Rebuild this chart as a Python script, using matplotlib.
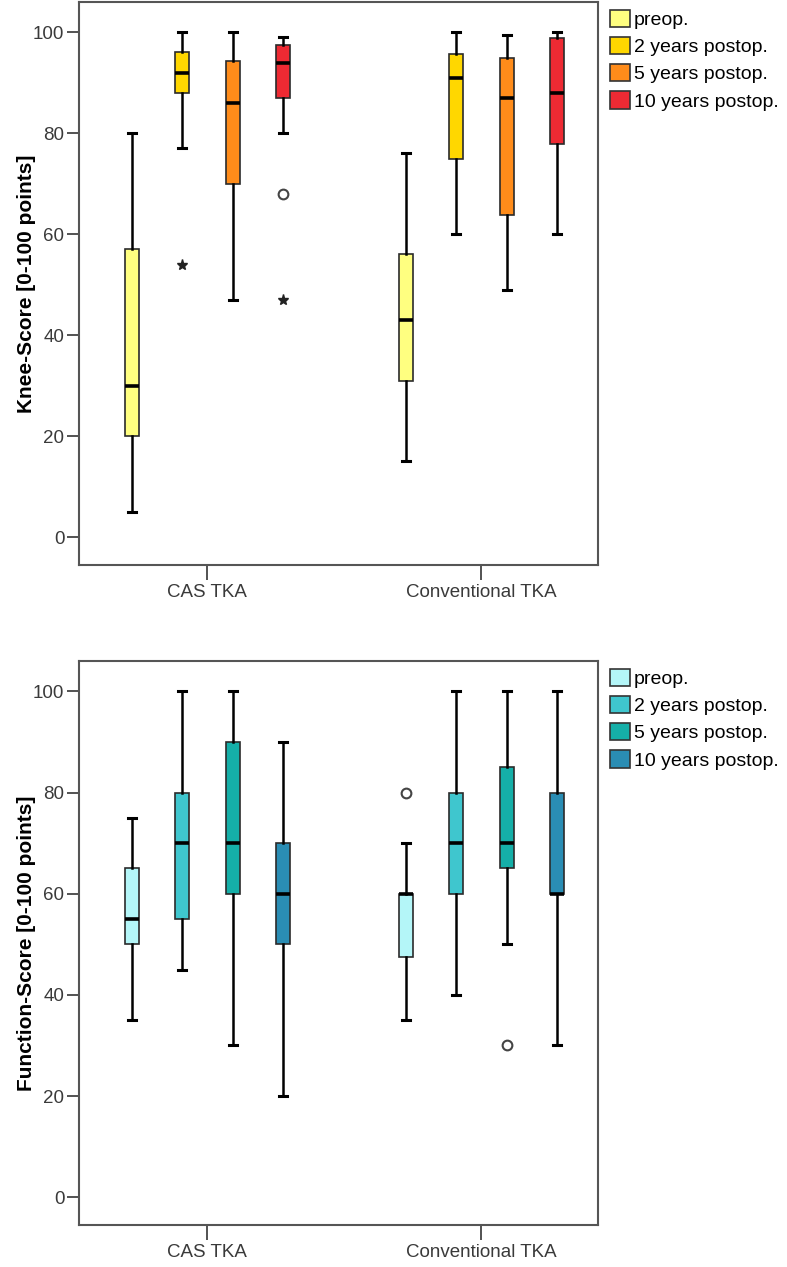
import matplotlib
matplotlib.use("Agg")
import matplotlib.pyplot as plt
from matplotlib.patches import Patch

plt.rcParams['font.family'] = ['Liberation Sans', 'DejaVu Sans']

groups = ["CAS TKA", "Conventional TKA"]
series = ["preop.", "2 years postop.", "5 years postop.", "10 years postop."]

# Knee-Score: [whislo, q1, med, q3, whishi] per group per series
knee_cas = [[5, 20, 30, 57, 80], [77, 88, 92, 96, 100], [47, 70, 86, 94.3, 100], [80, 87, 94, 97.5, 99]]
knee_conv = [[15, 31, 43, 56, 76], [60, 75, 91, 95.8, 100], [49, 63.8, 87, 95, 99.5], [60, 77.8, 88, 98.8, 100]]
knee_cas_outliers = [[], [], [], [68]]
knee_cas_extremes = [[], [54], [], [47]]
knee_conv_outliers = [[], [], [], []]
knee_conv_extremes = [[], [], [], []]

# Function-Score
func_cas = [[35, 50, 55, 65, 75], [45, 55, 70, 80, 100], [30, 60, 70, 90, 100], [20, 50, 60, 70, 90]]
func_conv = [[35, 47.5, 60, 60, 70], [40, 60, 70, 80, 100], [50, 65, 70, 85, 100], [30, 60, 60, 80, 100]]
func_cas_outliers = [[], [], [], []]
func_cas_extremes = [[], [], [], []]
func_conv_outliers = [[80], [], [30], []]
func_conv_extremes = [[], [], [], []]

knee_colors = ["#FFFF80", "#FFD700", "#FF8C1A", "#EE2A33"]
func_colors = ["#B4F6F8", "#3FC6CE", "#15AFA8", "#2A8DB4"]

fig = plt.figure(figsize=(7.87, 12.67), dpi=100)
W, H = 787, 1267


def add_axes(left, top, right, bottom):
    return fig.add_axes([left / W, 1 - bottom / H, (right - left) / W, (bottom - top) / H])


offsets = [-0.274, -0.092, 0.094, 0.277]
width = 0.052


def draw_panel(ax, cas, conv, cas_out, cas_ext, conv_out, conv_ext, colors, ylabel):
    for gi, (data, outs, exts) in enumerate([(cas, cas_out, cas_ext), (conv, conv_out, conv_ext)]):
        for si in range(4):
            lo, q1, med, q3, hi = data[si]
            st = dict(whislo=lo, q1=q1, med=med, q3=q3, whishi=hi, fliers=[])
            pos = gi + offsets[si]
            ax.bxp([st], positions=[pos], widths=width, patch_artist=True,
                   showfliers=False, capwidths=width * 0.55,
                   boxprops=dict(facecolor=colors[si], edgecolor="#2b2b2b", linewidth=1.2),
                   medianprops=dict(color="black", linewidth=2.6, solid_capstyle="butt"),
                   whiskerprops=dict(color="black", linewidth=1.8),
                   capprops=dict(color="black", linewidth=2.2),
                   manage_ticks=False)
            for v in outs[si]:
                ax.plot([pos], [v], marker="o", markersize=7, markerfacecolor="white",
                        markeredgecolor="#444444", markeredgewidth=1.5, linestyle="none")
            for v in exts[si]:
                ax.plot([pos], [v], marker="*", markersize=8, color="#222222", linestyle="none")
    ax.set_xlim(-0.467, 1.427)
    ax.set_ylim(-5.5, 106)
    ax.set_xticks([0, 1])
    ax.set_xticklabels(groups)
    ax.set_yticks([0, 20, 40, 60, 80, 100])
    ax.tick_params(axis="both", colors="#444444", labelcolor="#3a3a3a", labelsize=13.5,
                   width=1.3, length=8.5, pad=2)
    ax.tick_params(axis="x", length=11, pad=3)
    for sp in ax.spines.values():
        sp.set_color("#555555")
        sp.set_linewidth(1.5)
    ax.set_ylabel(ylabel, fontsize=15, fontweight="bold")
    ax.yaxis.set_label_coords(-0.083, 0.5)
    handles = [Patch(facecolor=c, edgecolor="#333333", linewidth=1.2) for c in colors]
    ax.legend(handles, series, loc="upper left", bbox_to_anchor=(1.009, 1.0), frameon=False,
              fontsize=14, handlelength=1.0, handleheight=1.0, handletextpad=0.2,
              labelspacing=0.4, borderaxespad=0.2, borderpad=0.2)


ax1 = add_axes(79, 2, 598, 565)
draw_panel(ax1, knee_cas, knee_conv, knee_cas_outliers, knee_cas_extremes,
           knee_conv_outliers, knee_conv_extremes, knee_colors, "Knee-Score [0-100 points]")

ax2 = add_axes(79, 661, 598, 1225)
draw_panel(ax2, func_cas, func_conv, func_cas_outliers, func_cas_extremes,
           func_conv_outliers, func_conv_extremes, func_colors, "Function-Score [0-100 points]")

fig.savefig("out.png", dpi=100, facecolor="white")
